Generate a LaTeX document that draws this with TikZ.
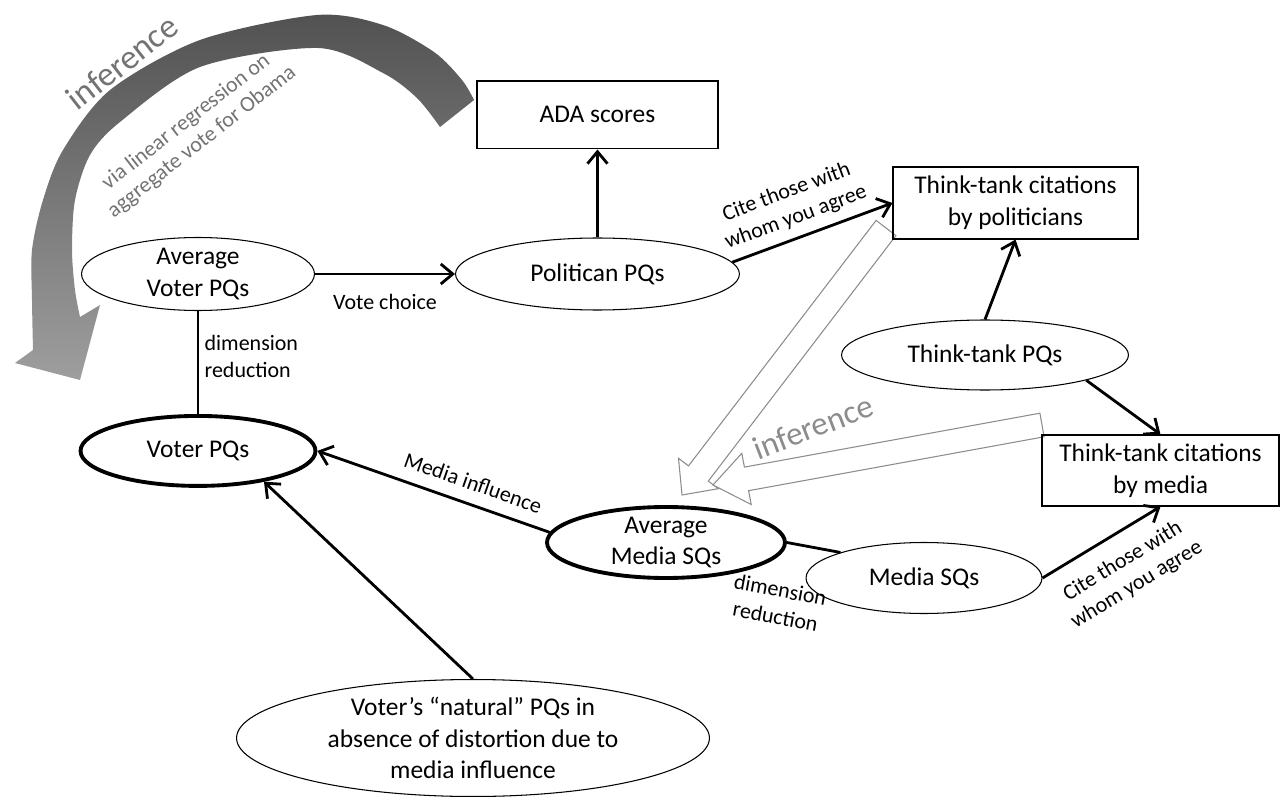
\documentclass[tikz,border=0pt]{standalone}
\usepackage{fontspec}
\setmainfont{Carlito}
\usetikzlibrary{arrows.meta,shapes.geometric,positioning}

\tikzset{
  quantity/.style={ellipse, draw, line width=0.6pt, inner sep=0pt, inner ysep=-2pt,
    align=center, font=\fontsize{14.5}{18}\selectfont},
  mainquantity/.style={quantity, line width=2.2pt},
  record/.style={rectangle, draw, line width=0.7pt, inner sep=0pt, align=center,
    font=\fontsize{14.5}{18}\selectfont},
  link/.style={font=\fontsize{12.5}{15.3}\selectfont, inner sep=1pt, align=center},
  blockarrow/.style={-, draw=black!45, line width=0.6pt, fill=white},
  graytext/.style={text=black!55, inner sep=0pt, align=center}
}

\begin{document}
\begin{tikzpicture}[->,>={Straight Barb[length=2.4mm,width=4mm]},line width=1.6pt,
    x=0.02cm,y=-0.02cm]
  \useasboundingbox (0,0) rectangle (1281,797);

  % curved inference arrow (top left)
  \shade[-, top color=black!68, bottom color=black!38]
    plot[smooth] coordinates {(474,100) (462,80) (434,52) (383,25) (317,15) (200,40)
      (110,90) (63,150) (43,200) (32,250) (32,300) (33,350)}
    -- (15,363) -- (80,380) -- (100,305)
    -- plot[smooth] coordinates {(80,317) (75,290) (72,250) (75,200) (90,155) (120,122)
      (200,67) (318,48) (383,73) (417,98) (440,127)} -- cycle;

  % hollow inference arrows
  \filldraw[blockarrow] (876.1,220.4) -- (688.5,465.9) -- (678.5,458.3) -- (682,495)
    -- (718.3,488.7) -- (708.3,481.1) -- (895.9,235.6) -- cycle;
  \filldraw[blockarrow] (1039.9,413.2) -- (744.4,467.1) -- (741.8,453.3) -- (713,485)
    -- (751.2,504.5) -- (748.6,490.7) -- (1044.1,436.8) -- cycle;

  \node[quantity, minimum width=4.66cm, minimum height=1.46cm] (avgvoter) at (198,274) {Average\\Voter PQs};
  \node[mainquantity, minimum width=4.7cm, minimum height=1.4cm] (voterpq) [below=2.06cm of avgvoter] {Voter PQs};
  \node[quantity, minimum width=5.68cm, minimum height=1.44cm] (politican) [right=2.8cm of avgvoter] {Politican PQs};
  \node[record, minimum width=4.82cm, minimum height=1.36cm] (ada) [above=1.76cm of politican] {ADA scores};
  \node[record, minimum width=4.9cm, minimum height=1.44cm] (ttpol) at (1015.5,203) {Think-tank citations\\by politicians};
  \node[quantity, minimum width=5.74cm, minimum height=1.4cm] (ttpq) at (985,355) {Think-tank PQs};
  \node[record, minimum width=4.74cm, minimum height=1.42cm] (ttmedia) at (1160.5,470.5) {Think-tank citations\\by media};
  \node[quantity, minimum width=4.72cm, minimum height=1.42cm] (mediasq) at (924,578) {Media SQs};
  \node[mainquantity, minimum width=4.76cm, minimum height=1.42cm] (avgmedia) at (666,542.5) {Average\\Media SQs};
  \node[quantity, inner ysep=-3pt, minimum width=9.46cm, minimum height=2.34cm] (natural) at (473,738)
    {Voter’s “natural” PQs in\\absence of distortion due to\\media influence};

  \node[graytext, font=\fontsize{19.5}{22}\selectfont, rotate=38] (infertop) at (122,62) {inference};
  \node[graytext, font=\fontsize{12.5}{14.5}\selectfont, rotate=38] (vianote) at (194,132)
    {via linear regression on\\aggregate vote for Obama};
  \node[graytext, text=black!45, font=\fontsize{18.8}{22}\selectfont, rotate=21] (infermid) at (813,427) {inference};

  \path (avgvoter) edge node[link, below=10pt] (votelbl) {Vote choice} (politican)
  (politican) edge (ada)
  (politican.5) edge node[link, sloped, above=4pt, pos=0.44] (citepol) {Cite those with\\whom you agree} (ttpol.west)
  (ttpq.north) edge (ttpol.south)
  (ttpq.-14) edge (ttmedia.north)
  (mediasq.east) edge node[link, sloped, below=8.5pt, pos=0.56] (citemedia) {Cite those with\\whom you agree} (ttmedia.south)
  (avgmedia.east) edge[-] node[link, sloped, below=21pt, pos=0.04] (dimmedia) {dimension\\reduction} (mediasq.163)
  (voterpq.east) edge[<-] node[link, sloped, above=6pt, pos=0.64] (influence) {Media influence} (avgmedia.175)
  (natural.north) edge (voterpq.-25)
  (avgvoter) edge[-] node[link, right=2pt, align=left, pos=0.44] (dimvoter) {dimension\\reduction} (voterpq)
  ;
\end{tikzpicture}
\end{document}
